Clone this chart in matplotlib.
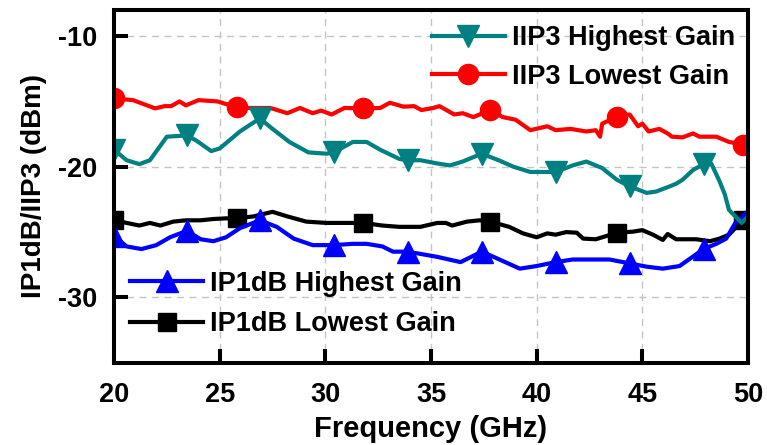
import numpy as np
import matplotlib
matplotlib.use("Agg")
import matplotlib.pyplot as plt

plt.rcParams["font.family"] = ["Liberation Sans", "DejaVu Sans"]
plt.rcParams["font.weight"] = "bold"

# ---- data -------------------------------------------------------------
freq_iip3_low = [20, 20.9, 21.94, 22.4, 22.7, 23.1, 23.4, 24.0, 24.9, 25.83, 26.4, 27.4,
                 28.2, 28.8, 29.4, 29.8, 30.3, 30.9, 31.8, 32.6, 33.05, 33.7, 34.2, 34.55,
                 35.1, 35.4, 36.1, 36.5, 37.0, 37.8, 38.4, 39.0, 39.7, 40.5, 40.9, 41.6,
                 42.35, 42.8, 43.0, 43.1, 43.8, 44.4, 44.8, 45.0, 45.3, 45.8, 46.2, 46.4,
                 46.9, 47.4, 47.7, 48.5, 49.1, 49.75, 50]
iip3_low = [-14.77, -14.9, -15.53, -15.36, -15.36, -15.0, -15.3, -14.9, -15.0, -15.46, -15.5,
            -15.5, -15.9, -15.5, -15.9, -15.7, -16.0, -15.5, -15.53, -15.5, -15.1, -15.4,
            -15.36, -15.66, -15.5, -15.36, -16.0, -15.9, -16.2, -15.66, -16.2, -16.4, -17.2,
            -16.9, -17.2, -17.1, -17.3, -17.2, -17.7, -16.7, -16.17, -16.0, -16.9, -16.7,
            -17.3, -17.1, -17.45, -17.7, -17.75, -17.45, -17.7, -17.7, -18.1, -18.3, -18.2]

freq_iip3_high = [20, 20.6, 21.2, 21.7, 22.5, 23.45, 23.9, 24.6, 25.0, 25.96, 26.9, 27.5,
                  28.3, 29.2, 30.05, 30.4, 31.3, 31.95, 32.6, 33.5, 33.9, 34.5, 35.3, 35.9,
                  36.5, 37.4, 38.2, 38.9, 39.7, 40.9, 41.7, 42.35, 43.1, 43.8, 44.4, 45.2,
                  45.65, 46.3, 46.6, 46.9, 47.4, 47.9, 48.26, 48.65, 48.9, 49.1, 49.7, 50]
iip3_high = [-18.7, -19.5, -19.8, -19.5, -17.7, -17.6, -18.0, -18.8, -18.6, -17.3, -16.3,
             -17.1, -18.1, -18.9, -19.0, -18.9, -18.1, -18.1, -18.7, -19.4, -19.5, -19.5,
             -19.75, -19.9, -19.6, -19.0, -19.5, -20.0, -20.4, -20.4, -19.9, -19.6, -20.1,
             -21.0, -21.5, -22.0, -21.9, -21.5, -21.3, -21.0, -20.25, -19.8, -19.75, -21.1,
             -22.1, -23.3, -24.3, -23.8]

freq_ip1_high = [20, 20.6, 21.3, 22.0, 22.65, 23.45, 24.1, 24.7, 25.3, 25.96, 26.9, 27.7,
                 28.5, 29.4, 30.4, 31.3, 31.95, 32.7, 33.2, 33.9, 35.3, 36.4, 37.4, 38.1,
                 39.2, 40.0, 40.9, 41.7, 42.5, 43.45, 44.4, 45.2, 45.97, 46.76, 47.2, 47.9,
                 48.5, 48.97, 49.4, 50]
ip1_high = [-25.3, -26.1, -26.3, -26.0, -25.4, -24.9, -25.55, -25.7, -25.4, -24.7, -24.1,
            -24.6, -25.5, -26.0, -26.0, -25.9, -25.9, -26.1, -26.5, -26.5, -26.9, -27.3,
            -26.5, -27.0, -27.8, -27.6, -27.3, -27.1, -27.1, -27.1, -27.4, -27.65, -27.8,
            -27.6, -27.1, -26.3, -25.9, -25.5, -24.3, -23.4]

freq_ip1_low = [20, 20.6, 21.2, 21.7, 22.2, 22.8, 23.4, 24.1, 24.7, 25.3, 25.83, 26.6, 27.5,
                28.2, 29.1, 30.05, 31.0, 31.8, 32.7, 33.5, 34.5, 35.3, 35.7, 36.0, 36.7,
                37.3, 37.8, 38.7, 39.35, 40.0, 40.5, 40.9, 41.4, 41.9, 42.2, 42.8, 43.8,
                44.55, 45.0, 45.5, 45.97, 46.2, 46.6, 47.55, 48.2, 48.65, 49.1, 49.75, 50]
ip1_low = [-24.1, -24.3, -24.5, -24.3, -24.5, -24.2, -24.1, -24.1, -24.0, -23.95, -23.95,
           -23.8, -23.45, -23.8, -24.2, -24.3, -24.3, -24.3, -24.5, -24.6, -24.6, -24.3,
           -24.3, -24.5, -24.2, -24.1, -24.2, -24.6, -25.1, -25.4, -25.1, -25.2, -25.0,
           -25.05, -25.5, -25.55, -25.05, -24.97, -24.85, -25.2, -25.6, -25.15, -25.55,
           -25.55, -25.7, -25.5, -25.2, -24.1, -23.6]

# symbol positions along each trace (GHz)
marks_lowest_gain = [20, 25.83, 31.8, 37.8, 43.8, 49.75]
marks_highest_gain = [20, 23.45, 26.9, 30.4, 33.9, 37.4, 40.9, 44.4, 47.9]

x_ticks = [20, 25, 30, 35, 40, 45, 50]
y_ticks = [-10, -20, -30]


def mark_index(xs, marks):
    xs = np.asarray(xs)
    return [int(np.argmin(np.abs(xs - m))) for m in marks]


# ---- figure -----------------------------------------------------------
fig = plt.figure(figsize=(7.67, 4.45), dpi=100)
ax = fig.add_axes([114 / 767, 1 - 362.7 / 445, 634 / 767, 352.7 / 445])

lw = 3.0
l_ip1_low, = ax.plot(freq_ip1_low, ip1_low, color="black", lw=lw, marker="s", ms=13,
                     markevery=mark_index(freq_ip1_low, marks_lowest_gain),
                     label="IP1dB Lowest Gain")
l_ip1_high, = ax.plot(freq_ip1_high, ip1_high, color="#0000ff", lw=lw, marker="^", ms=16,
                      markevery=mark_index(freq_ip1_high, marks_highest_gain),
                      label="IP1dB Highest Gain")
l_iip3_low, = ax.plot(freq_iip3_low, iip3_low, color="#ff0000", lw=lw, marker="o", ms=14.5,
                      markevery=mark_index(freq_iip3_low, marks_lowest_gain),
                      label="IIP3 Lowest Gain")
l_iip3_high, = ax.plot(freq_iip3_high, iip3_high, color="#008080", lw=lw, marker="v", ms=16,
                       markevery=mark_index(freq_iip3_high, marks_highest_gain),
                       label="IIP3 Highest Gain")

ax.set_xlim(20, 50)
ax.set_ylim(-35, -8)
ax.set_xticks(x_ticks)
ax.set_yticks(y_ticks)
ax.set_xticklabels([str(v) for v in x_ticks])
ax.set_yticklabels([str(v) for v in y_ticks])

ax.grid(True, color="#c4c4c4", linestyle=(0, (5, 4)), linewidth=1.0)
ax.set_axisbelow(True)
for s in ax.spines.values():
    s.set_linewidth(2.9)
ax.tick_params(direction="in", length=10, width=2.9, labelsize=19.5, top=False, right=False)
ax.tick_params(axis="x", pad=14)
ax.tick_params(axis="y", pad=12)
for lab in ax.get_xticklabels() + ax.get_yticklabels():
    lab.set_fontweight("bold")

ax.set_xlabel("Frequency (GHz)", fontsize=21, fontweight="bold", labelpad=5)
ax.set_ylabel("IP1dB/IIP3 (dBm)", fontsize=20, fontweight="bold", labelpad=8)

leg_kw = dict(frameon=False, loc="center left", handlelength=2.7,
              handletextpad=0.25, borderpad=0, borderaxespad=0,
              prop={"weight": "bold", "size": 19.5})
leg1 = ax.legend([l_iip3_high, l_iip3_low], ["IIP3 Highest Gain", "IIP3 Lowest Gain"],
                 bbox_to_anchor=(0.501, 0.8653), labelspacing=0.46, **leg_kw)
ax.add_artist(leg1)
ax.legend([l_ip1_high, l_ip1_low], ["IP1dB Highest Gain", "IP1dB Lowest Gain"],
          bbox_to_anchor=(0.0252, 0.1664), labelspacing=0.53, **leg_kw)

fig.savefig("out.png", dpi=100)
